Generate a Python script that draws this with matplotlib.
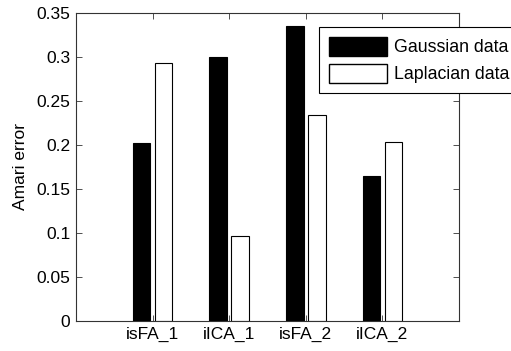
import numpy as np
import matplotlib.pyplot as plt
from matplotlib.patches import Patch

plt.rcParams.update(
    {
        "font.family": ["Liberation Sans", "DejaVu Sans"],
        "font.size": 12.5,
    }
)

methods = ["isFA_1", "iICA_1", "isFA_2", "iICA_2"]
gaussian = [0.202, 0.300, 0.335, 0.165]
laplacian = [0.293, 0.097, 0.234, 0.203]

x = np.arange(1, len(methods) + 1)
offset = 0.143
width = 0.23

fig = plt.figure(figsize=(5.11, 3.51), dpi=100)
ax = fig.add_axes([76 / 511, 30 / 351, 383 / 511, 308 / 351])

ax.bar(x - offset, gaussian, width, color="black", edgecolor="black", linewidth=0.8)
ax.bar(x + offset, laplacian, width, color="white", edgecolor="black", linewidth=0.8)

ax.set_xlim(0, 5)
ax.set_ylim(0, 0.35)
ax.set_xticks(x)
ax.set_xticklabels(methods)
ax.set_yticks(np.arange(0, 0.351, 0.05))
ax.set_yticklabels(["0", "0.05", "0.1", "0.15", "0.2", "0.25", "0.3", "0.35"])
ax.tick_params(direction="in", top=True, right=True, length=4, width=0.6,
               colors="#333333", labelcolor="black", labelsize=12.5, pad=4)
for s in ax.spines.values():
    s.set_linewidth(0.8)
    s.set_color("#333333")
ax.set_ylabel("Amari error", labelpad=6)

handles = [
    Patch(facecolor="black", edgecolor="black", label="Gaussian data"),
    Patch(facecolor="white", edgecolor="black", label="Laplacian data"),
]
leg = fig.legend(
    handles=handles,
    loc="upper left",
    bbox_to_anchor=(319 / 511, 1 - 27 / 351),
    frameon=True,
    fancybox=False,
    edgecolor="black",
    framealpha=1,
    handlelength=3.3,
    handleheight=1.3,
    handletextpad=0.35,
    labelspacing=0.4,
    borderpad=0.55,
    borderaxespad=0,
    fontsize=12.8,
)
leg.get_frame().set_linewidth(0.8)

fig.savefig("out.png", dpi=100)
